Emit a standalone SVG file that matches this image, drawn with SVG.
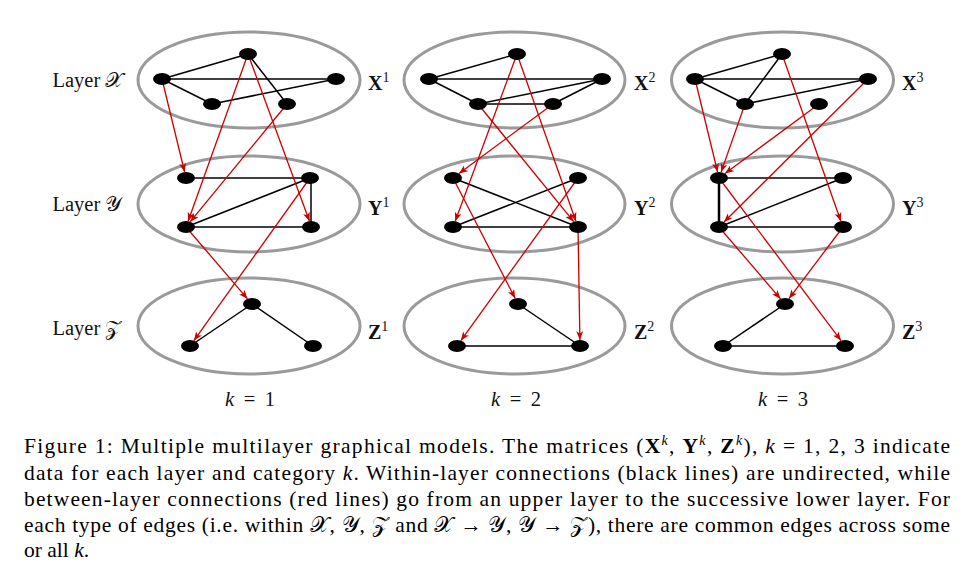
<svg xmlns="http://www.w3.org/2000/svg" width="967" height="581" viewBox="0 0 967 581">
<defs>
<style>
.layer{fill:none;stroke:#9a9a9a;stroke-width:3}
.nd{fill:#000}
.e{stroke:#000;stroke-width:1.5;fill:none}
.r{stroke:#cc0000;stroke-width:1.3;fill:none;marker-end:url(#ah)}
.lab{font-family:"Liberation Serif","DejaVu Serif",serif;font-size:20.5px;fill:#111}
.mat{font-family:"Liberation Serif","DejaVu Serif",serif;font-size:20px;font-weight:bold;fill:#111}
.sup{font-size:14px;font-weight:normal}
.cap{font-family:"Liberation Serif","DejaVu Serif",serif;font-size:21.5px;fill:#000}
.it{font-style:italic}
</style>
<marker id="ah" viewBox="0 0 10 8" refX="10" refY="4" markerWidth="9" markerHeight="7" markerUnits="userSpaceOnUse" orient="auto">
<path d="M0,0 L10,4 L0,8 L2.5,4 z" fill="#cc0000"/>
</marker>
</defs>
<rect width="967" height="581" fill="#fff"/>

<!-- layer containers -->
<g id="X1"><ellipse class="layer" cx="249" cy="80" rx="111" ry="48"/></g>
<g id="Y1"><ellipse class="layer" cx="249" cy="204" rx="111" ry="48"/></g>
<g id="Z1"><ellipse class="layer" cx="249" cy="326" rx="111" ry="48"/></g>
<g id="X2"><ellipse class="layer" cx="514.5" cy="80" rx="110.5" ry="48"/></g>
<g id="Y2"><ellipse class="layer" cx="514.5" cy="204" rx="110.5" ry="48"/></g>
<g id="Z2"><ellipse class="layer" cx="514.5" cy="326" rx="110.5" ry="48"/></g>
<g id="X3"><ellipse class="layer" cx="782.5" cy="80" rx="111" ry="48"/></g>
<g id="Y3"><ellipse class="layer" cx="782.5" cy="204" rx="111" ry="48"/></g>
<g id="Z3"><ellipse class="layer" cx="782.5" cy="326" rx="111" ry="48"/></g>

<!-- connectors -->
<g id="connectors">
<!-- column 1 black -->
<line class="e" x1="162" y1="79" x2="248" y2="54"/>
<line class="e" x1="162" y1="79" x2="336" y2="79"/>
<line class="e" x1="162" y1="79" x2="212" y2="104"/>
<line class="e" x1="212" y1="104" x2="336" y2="79"/>
<line class="e" x1="248" y1="54" x2="287" y2="104"/>
<line class="e" x1="186" y1="178" x2="310" y2="178"/>
<line class="e" x1="310" y1="178" x2="186" y2="227"/>
<line class="e" x1="186" y1="227" x2="311" y2="227"/>
<line class="e" x1="311" y1="178" x2="311" y2="227"/>
<line class="e" x1="252" y1="304" x2="190" y2="346"/>
<line class="e" x1="252" y1="304" x2="313" y2="346"/>
<!-- column 2 black -->
<line class="e" x1="429" y1="79" x2="517" y2="54"/>
<line class="e" x1="429" y1="79" x2="602" y2="79"/>
<line class="e" x1="429" y1="79" x2="478" y2="104"/>
<line class="e" x1="478" y1="104" x2="602" y2="79"/>
<line class="e" x1="553" y1="104" x2="602" y2="79"/>
<line class="e" x1="478" y1="104" x2="553" y2="104"/>
<line class="e" x1="453" y1="178" x2="578" y2="227"/>
<line class="e" x1="578" y1="178" x2="453" y2="227"/>
<line class="e" x1="453" y1="227" x2="578" y2="227"/>
<line class="e" x1="518" y1="304" x2="580" y2="346"/>
<line class="e" x1="457" y1="346" x2="580" y2="346"/>
<!-- column 3 black -->
<line class="e" x1="695" y1="79" x2="782" y2="54"/>
<line class="e" x1="695" y1="79" x2="868" y2="79"/>
<line class="e" x1="695" y1="79" x2="745" y2="104"/>
<line class="e" x1="782" y1="54" x2="745" y2="104"/>
<line class="e" x1="745" y1="104" x2="868" y2="79"/>
<line class="e" x1="719" y1="178" x2="843" y2="178"/>
<line class="e" x1="843" y1="178" x2="719" y2="227"/>
<line class="e" x1="719" y1="227" x2="843" y2="227"/>
<line class="e" x1="719" y1="178" x2="719" y2="227" style="stroke-width:2.5"/>
<line class="e" x1="785" y1="304" x2="723" y2="346"/>
<line class="e" x1="723" y1="346" x2="845" y2="346"/>
<!-- column 1 red -->
<line class="r" x1="162" y1="79" x2="184.6" y2="172"/>
<line class="r" x1="248" y1="54" x2="188.1" y2="221.2"/>
<line class="r" x1="287" y1="104" x2="190.3" y2="221.7"/>
<line class="r" x1="248" y1="54" x2="309.5" y2="221.2"/>
<line class="r" x1="186" y1="227" x2="247.5" y2="298.8"/>
<line class="r" x1="310" y1="178" x2="193.9" y2="340.6"/>
<!-- column 2 red -->
<line class="r" x1="517" y1="54" x2="455.2" y2="221.2"/>
<line class="r" x1="517" y1="54" x2="575.9" y2="221.2"/>
<line class="r" x1="478" y1="104" x2="573.7" y2="221.7"/>
<line class="r" x1="553" y1="104" x2="459" y2="173.5"/>
<line class="r" x1="453" y1="178" x2="515.1" y2="298.3"/>
<line class="r" x1="578" y1="178" x2="460.9" y2="340.6"/>
<line class="r" x1="578" y1="227" x2="579.9" y2="340"/>
<!-- column 3 red -->
<line class="r" x1="695" y1="79" x2="717.6" y2="172"/>
<line class="r" x1="745" y1="104" x2="721.1" y2="172.1"/>
<line class="r" x1="819" y1="104" x2="725" y2="173.5"/>
<line class="r" x1="868" y1="79" x2="724" y2="222"/>
<line class="r" x1="782" y1="54" x2="840.9" y2="221.2"/>
<line class="r" x1="719" y1="178" x2="841" y2="340.6"/>
<line class="r" x1="719" y1="227" x2="780.5" y2="298.8"/>
<line class="r" x1="843" y1="227" x2="789" y2="298.6"/>
</g>

<!-- nodes column 1 -->
<g id="n1xa"><ellipse class="nd" cx="248" cy="54" rx="9" ry="6"/></g>
<g id="n1xb"><ellipse class="nd" cx="162" cy="79" rx="9" ry="6"/></g>
<g id="n1xc"><ellipse class="nd" cx="212" cy="104" rx="9" ry="6"/></g>
<g id="n1xd"><ellipse class="nd" cx="287" cy="104" rx="9" ry="6"/></g>
<g id="n1xe"><ellipse class="nd" cx="336" cy="79" rx="9" ry="6"/></g>
<g id="n1ytl"><ellipse class="nd" cx="186" cy="178" rx="9" ry="6"/></g>
<g id="n1ytr"><ellipse class="nd" cx="310" cy="178" rx="9" ry="6"/></g>
<g id="n1ybl"><ellipse class="nd" cx="186" cy="227" rx="9" ry="6"/></g>
<g id="n1ybr"><ellipse class="nd" cx="311" cy="227" rx="9" ry="6"/></g>
<g id="n1zt"><ellipse class="nd" cx="252" cy="304" rx="9" ry="6"/></g>
<g id="n1zl"><ellipse class="nd" cx="190" cy="346" rx="9" ry="6"/></g>
<g id="n1zr"><ellipse class="nd" cx="313" cy="346" rx="9" ry="6"/></g>
<!-- nodes column 2 -->
<g id="n2xa"><ellipse class="nd" cx="517" cy="54" rx="9" ry="6"/></g>
<g id="n2xb"><ellipse class="nd" cx="429" cy="79" rx="9" ry="6"/></g>
<g id="n2xc"><ellipse class="nd" cx="478" cy="104" rx="9" ry="6"/></g>
<g id="n2xd"><ellipse class="nd" cx="553" cy="104" rx="9" ry="6"/></g>
<g id="n2xe"><ellipse class="nd" cx="602" cy="79" rx="9" ry="6"/></g>
<g id="n2ytl"><ellipse class="nd" cx="453" cy="178" rx="9" ry="6"/></g>
<g id="n2ytr"><ellipse class="nd" cx="578" cy="178" rx="9" ry="6"/></g>
<g id="n2ybl"><ellipse class="nd" cx="453" cy="227" rx="9" ry="6"/></g>
<g id="n2ybr"><ellipse class="nd" cx="578" cy="227" rx="9" ry="6"/></g>
<g id="n2zt"><ellipse class="nd" cx="518" cy="304" rx="9" ry="6"/></g>
<g id="n2zl"><ellipse class="nd" cx="457" cy="346" rx="9" ry="6"/></g>
<g id="n2zr"><ellipse class="nd" cx="580" cy="346" rx="9" ry="6"/></g>
<!-- nodes column 3 -->
<g id="n3xa"><ellipse class="nd" cx="782" cy="54" rx="9" ry="6"/></g>
<g id="n3xb"><ellipse class="nd" cx="695" cy="79" rx="9" ry="6"/></g>
<g id="n3xc"><ellipse class="nd" cx="745" cy="104" rx="9" ry="6"/></g>
<g id="n3xd"><ellipse class="nd" cx="819" cy="104" rx="9" ry="6"/></g>
<g id="n3xe"><ellipse class="nd" cx="868" cy="79" rx="9" ry="6"/></g>
<g id="n3ytl"><ellipse class="nd" cx="719" cy="178" rx="9" ry="6"/></g>
<g id="n3ytr"><ellipse class="nd" cx="843" cy="178" rx="9" ry="6"/></g>
<g id="n3ybl"><ellipse class="nd" cx="719" cy="227" rx="9" ry="6"/></g>
<g id="n3ybr"><ellipse class="nd" cx="843" cy="227" rx="9" ry="6"/></g>
<g id="n3zt"><ellipse class="nd" cx="785" cy="304" rx="9" ry="6"/></g>
<g id="n3zl"><ellipse class="nd" cx="723" cy="346" rx="9" ry="6"/></g>
<g id="n3zr"><ellipse class="nd" cx="845" cy="346" rx="9" ry="6"/></g>

<!-- layer labels -->
<text class="lab" x="52.5" y="87">Layer 𝒳</text>
<text class="lab" x="52.5" y="211">Layer 𝒴</text>
<text class="lab" x="52.5" y="335">Layer 𝒵</text>

<!-- matrix labels -->
<text class="mat" x="368" y="90">X<tspan class="sup" dy="-8">1</tspan></text>
<text class="mat" x="368" y="215">Y<tspan class="sup" dy="-8">1</tspan></text>
<text class="mat" x="368" y="339">Z<tspan class="sup" dy="-8">1</tspan></text>
<text class="mat" x="634" y="90">X<tspan class="sup" dy="-8">2</tspan></text>
<text class="mat" x="634" y="215">Y<tspan class="sup" dy="-8">2</tspan></text>
<text class="mat" x="634" y="339">Z<tspan class="sup" dy="-8">2</tspan></text>
<text class="mat" x="902" y="90">X<tspan class="sup" dy="-8">3</tspan></text>
<text class="mat" x="902" y="215">Y<tspan class="sup" dy="-8">3</tspan></text>
<text class="mat" x="902" y="339">Z<tspan class="sup" dy="-8">3</tspan></text>

<!-- k labels -->
<text class="lab" x="225" y="406" textLength="50" lengthAdjust="spacing"><tspan class="it">k</tspan> = 1</text>
<text class="lab" x="491" y="406" textLength="50" lengthAdjust="spacing"><tspan class="it">k</tspan> = 2</text>
<text class="lab" x="758" y="406" textLength="50" lengthAdjust="spacing"><tspan class="it">k</tspan> = 3</text>

<!-- caption -->
<text class="cap" x="24" y="453" textLength="926" lengthAdjust="spacing">Figure 1: Multiple multilayer graphical models. The matrices (<tspan font-weight="bold">X</tspan><tspan class="it" font-size="14" dy="-8">k</tspan><tspan dy="8">, </tspan><tspan font-weight="bold">Y</tspan><tspan class="it" font-size="14" dy="-8">k</tspan><tspan dy="8">, </tspan><tspan font-weight="bold">Z</tspan><tspan class="it" font-size="14" dy="-8">k</tspan><tspan dy="8">), </tspan><tspan class="it">k</tspan> = 1, 2, 3 indicate</text>
<text class="cap" x="24" y="480" textLength="926" lengthAdjust="spacing">data for each layer and category <tspan class="it">k</tspan>. Within-layer connections (black lines) are undirected, while</text>
<text class="cap" x="24" y="506" textLength="926" lengthAdjust="spacing">between-layer connections (red lines) go from an upper layer to the successive lower layer. For</text>
<text class="cap" x="24" y="532" textLength="926" lengthAdjust="spacing">each type of edges (i.e. within 𝒳, 𝒴, 𝒵 and 𝒳 → 𝒴, 𝒴 → 𝒵), there are common edges across some</text>
<text class="cap" x="24" y="557">or all <tspan class="it">k</tspan>.</text>
</svg>
